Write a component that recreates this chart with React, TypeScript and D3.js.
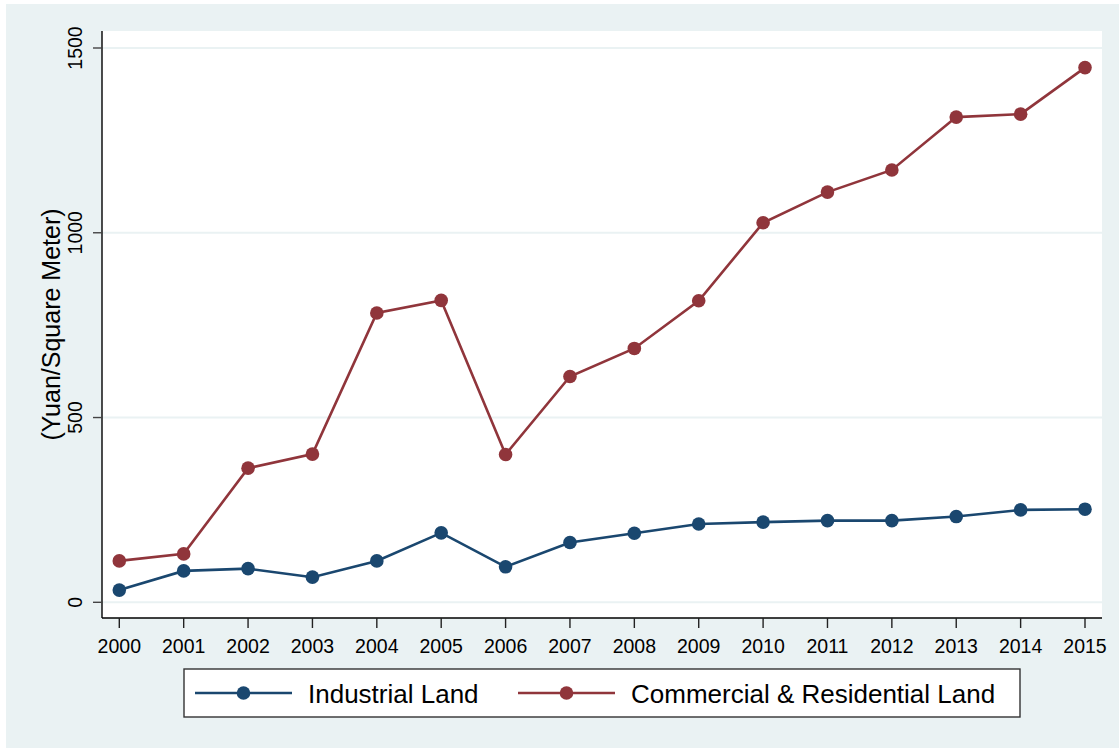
import React from "react";
import * as d3 from "d3";

const years = [2000, 2001, 2002, 2003, 2004, 2005, 2006, 2007, 2008, 2009, 2010, 2011, 2012, 2013, 2014, 2015];
const industrial = [33, 85, 91, 68, 112, 188, 96, 162, 187, 212, 217, 221, 221, 232, 250, 252];
const commercial = [112, 131, 363, 401, 783, 817, 400, 611, 687, 816, 1027, 1110, 1170, 1313, 1321, 1447];
const yTicks = [0, 500, 1000, 1500];
const seriesNames = ["Industrial Land", "Commercial & Residential Land"];
const seriesColors = ["#1A476F", "#90353B"];
const yTitle = "(Yuan/Square Meter)";

const W = 1119;
const H = 748;
const plot = { left: 102, right: 1102, top: 31, bottom: 618 };
const FONT = "Liberation Sans, Arial, sans-serif";

export default function App() {
  const x = d3.scaleLinear().domain([2000, 2015]).range([119.3, 1085]);
  const y = d3.scaleLinear().domain([0, 1500]).range([602.3, 48]);
  const line = d3
    .line<number>()
    .x((_, i) => x(years[i]))
    .y((d) => y(d));
  const series = [industrial, commercial];

  const legendKeys = [
    { x0: 195, x1: 292, tx: 308 },
    { x0: 518, x1: 615, tx: 631 },
  ];
  const legY = 693;

  return (
    <svg
      width={W}
      height={H}
      style={{ position: "absolute", left: 0, top: 0, display: "block" }}
      fontFamily={FONT}
    >
      <rect x={0} y={0} width={W} height={H} fill="#ffffff" />
      <rect x={6} y={4} width={W - 6} height={H - 4} fill="#EAF2F3" />
      <rect
        x={plot.left}
        y={plot.top}
        width={plot.right - plot.left}
        height={plot.bottom - plot.top}
        fill="#ffffff"
      />
      {yTicks.map((t) => (
        <line
          key={"g" + t}
          x1={plot.left}
          x2={plot.right}
          y1={y(t)}
          y2={y(t)}
          stroke="#EAF2F3"
          strokeWidth={2}
        />
      ))}
      {series.map((s, k) => (
        <g key={"s" + k}>
          <path d={line(s) || ""} fill="none" stroke={seriesColors[k]} strokeWidth={2.6} />
          {s.map((v, i) => (
            <circle key={i} cx={x(years[i])} cy={y(v)} r={6.8} fill={seriesColors[k]} />
          ))}
        </g>
      ))}
      {/* axes */}
      <line x1={plot.left} x2={plot.left} y1={plot.top} y2={plot.bottom} stroke="#000" strokeWidth={1.4} />
      <line x1={plot.left} x2={plot.right} y1={plot.bottom} y2={plot.bottom} stroke="#000" strokeWidth={1.4} />
      {yTicks.map((t) => (
        <g key={"yt" + t}>
          <line x1={plot.left - 9} x2={plot.left} y1={y(t)} y2={y(t)} stroke="#444" strokeWidth={1.4} />
          <text
            transform={`translate(${82},${y(t)}) rotate(-90)`}
            textAnchor="middle"
            fontSize={19.5}
            fill="#000"
          >
            {t}
          </text>
        </g>
      ))}
      {years.map((yr) => (
        <g key={"xt" + yr}>
          <line x1={x(yr)} x2={x(yr)} y1={plot.bottom} y2={plot.bottom + 10} stroke="#222" strokeWidth={1.4} />
          <text x={x(yr)} y={653} textAnchor="middle" fontSize={19.5} fill="#000">
            {yr}
          </text>
        </g>
      ))}
      <text
        transform={`translate(${60},${(plot.top + plot.bottom) / 2}) rotate(-90)`}
        textAnchor="middle"
        fontSize={25}
        fill="#000"
      >
        {yTitle}
      </text>
      {/* legend */}
      <rect x={184} y={669} width={836} height={48} fill="#ffffff" stroke="#333" strokeWidth={1.4} />
      {legendKeys.map((k, i) => (
        <g key={"lg" + i}>
          <line x1={k.x0} x2={k.x1} y1={legY} y2={legY} stroke={seriesColors[i]} strokeWidth={2.6} />
          <circle cx={(k.x0 + k.x1) / 2} cy={legY} r={6.8} fill={seriesColors[i]} />
          <text x={k.tx} y={legY + 9.5} fontSize={26} fill="#000">
            {seriesNames[i]}
          </text>
        </g>
      ))}
    </svg>
  );
}
